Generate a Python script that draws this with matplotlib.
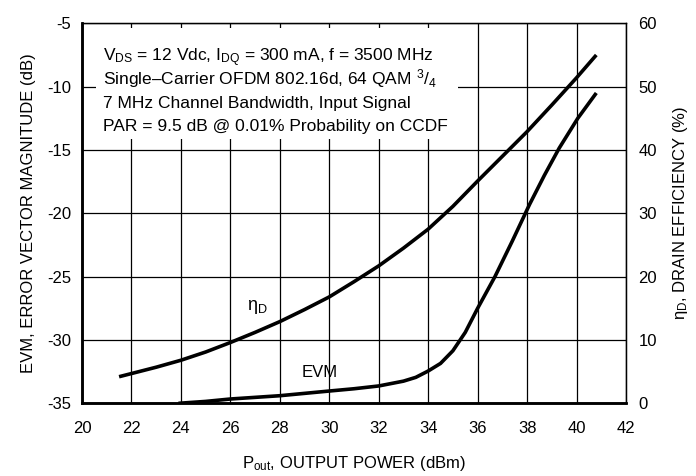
import matplotlib
matplotlib.use('Agg')
import matplotlib.pyplot as plt
from matplotlib.patches import Rectangle

fam = 'Liberation Sans'
plt.rcParams['font.family'] = [fam, 'DejaVu Sans']
plt.rcParams['mathtext.fontset'] = 'custom'
plt.rcParams['mathtext.rm'] = fam
plt.rcParams['mathtext.it'] = fam
plt.rcParams['mathtext.bf'] = fam
plt.rcParams['axes.unicode_minus'] = False

# drain efficiency (%) vs output power (dBm)
pout_eff = [21.5, 22, 23, 24, 25, 26, 27, 28, 29, 30, 31, 32, 33, 34, 35, 36,
            37, 38, 39, 40, 40.8]
eff = [4.2, 4.7, 5.7, 6.8, 8.1, 9.6, 11.2, 12.9, 14.8, 16.8, 19.2, 21.7, 24.5,
       27.5, 31.1, 35.1, 39.0, 42.9, 47.1, 51.4, 55.0]

# EVM (dB) vs output power (dBm)
pout_evm = [23.9, 25, 26, 28, 30, 31, 32, 33, 33.5, 34, 34.5, 35, 35.5, 36,
            36.7, 37.4, 38.1, 38.7, 39.3, 40.05, 40.8]
evm = [-35.0, -34.85, -34.66, -34.4, -34.03, -33.85, -33.63, -33.25, -32.95,
       -32.45, -31.85, -30.85, -29.4, -27.5, -25.0, -22.2, -19.3, -17.0,
       -14.85, -12.5, -10.5]

xticks = list(range(20, 43, 2))
yticks_left = list(range(-35, -4, 5))
yticks_right = list(range(0, 61, 10))

note_lines = ['V$_{\\mathrm{DS}}$ = 12 Vdc, I$_{\\mathrm{DQ}}$ = 300 mA, f = 3500 MHz',
              'Single\u2013Carrier OFDM 802.16d, 64 QAM $^{\\mathrm{3}}$/$_{\\mathrm{4}}$',
              '7 MHz Channel Bandwidth, Input Signal',
              'PAR = 9.5 dB @ 0.01% Probability on CCDF']

fig = plt.figure(figsize=(6.96, 4.76), dpi=100)
ax = fig.add_axes([0.1178, 0.1527, 0.7816, 0.7983])
ax2 = ax.twinx()

ax.set_xlim(20, 42)
ax.set_ylim(-35, -5)
ax2.set_ylim(0, 60)
ax.set_xticks(xticks)
ax.set_yticks(yticks_left)
ax2.set_yticks(yticks_right)
ax.grid(True, color='black', linewidth=0.9, zorder=1)
ax.tick_params(axis='y', length=0, labelsize=12, pad=8)
ax.tick_params(axis='x', length=0, labelsize=12, pad=13)
ax2.tick_params(length=0, labelsize=12, pad=9)

for s in ['left', 'bottom']:
    ax.spines[s].set_linewidth(1.8)
for s in ['right', 'top']:
    ax.spines[s].set_linewidth(1.0)
ax2.spines['left'].set_linewidth(1.8)
ax2.spines['bottom'].set_linewidth(1.8)

# white panel behind the conditions text, hides the grid
ax.add_patch(Rectangle((20.57, -14.1), 35.2 - 20.57, 8.7, facecolor='white',
                       edgecolor='none', zorder=2.5))

ax.plot(pout_evm, evm, color='black', linewidth=2.6, solid_capstyle='butt',
        solid_joinstyle='round', zorder=3)
ax2.plot(pout_eff, eff, color='black', linewidth=2.6, solid_capstyle='butt',
         solid_joinstyle='round', zorder=3)

ax.set_xlabel('P$_{\\mathrm{out}}$, OUTPUT POWER (dBm)', fontsize=12, labelpad=13)
ax.set_ylabel('EVM, ERROR VECTOR MAGNITUDE (dB)', fontsize=12, labelpad=8)
ax2.set_ylabel('η$_{\\mathrm{D}}$, DRAIN EFFICIENCY (%)', fontsize=12, labelpad=10)

ax.text(27.1, -27.4, 'η$_{\\mathrm{D}}$', fontsize=13, ha='center', va='center')
ax.text(29.6, -32.6, 'EVM', fontsize=12, ha='center', va='center')

baselines = [61, 84.5, 108, 131.5]
for line, yb in zip(note_lines, baselines):
    fig.text(103 / 696, 1 - yb / 476, line, fontsize=12.5, ha='left',
             va='baseline', zorder=5)

fig.savefig('out.png', dpi=100)
